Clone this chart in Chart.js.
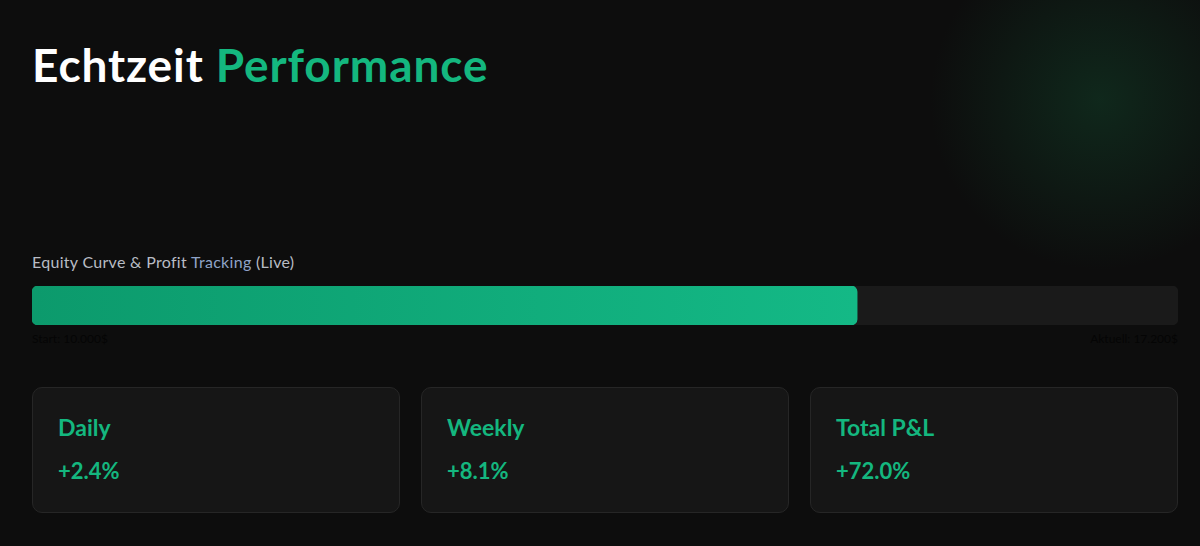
<!DOCTYPE html>
<html><head><meta charset="utf-8">
<script src="https://cdn.jsdelivr.net/npm/chart.js@4"></script>
<style>
html,body{margin:0;padding:0;background:#0d0d0d;width:1200px;height:546px;overflow:hidden;font-family:Lato,"Noto Sans",sans-serif;color:#fff}
body{background:radial-gradient(circle at 1100px 100px, rgba(20,90,55,0.35) 0, rgba(13,13,13,0) 170px),#0d0d0d}
h1{position:absolute;left:32px;top:37px;margin:0;font-size:46px;font-weight:700;letter-spacing:0.9px}
h1 span{color:#14b77f}
.sub{position:absolute;left:32px;top:252px;font-size:16px;color:#b8bcc4;letter-spacing:0.3px}
.sub span{color:#8fa3c8}
#wrap{position:absolute;left:32px;top:286px;width:1146px;height:39px}
.lab{position:absolute;top:331px;font-size:12px;color:#050505}
.card{position:absolute;top:387px;width:368px;height:126px;background:#161616;border:1px solid #262626;border-radius:10px;box-sizing:border-box}
.card .t{position:absolute;left:25px;top:25px;font-size:23px;font-weight:700;color:#14b77f}
.card .v{position:absolute;left:25px;top:69px;font-size:22px;font-weight:700;color:#14b77f}
</style></head><body>
<h1>Echtzeit <span>Performance</span></h1>
<div class="sub">Equity Curve &amp; Profit <span>Tracking</span> (Live)</div>
<div id="wrap"><canvas id="c"></canvas></div>
<div class="lab" style="left:32px">Start: 10.000$</div>
<div class="lab" style="right:22px">Aktuell: 17.200$</div>
<div class="card" style="left:32px"><div class="t">Daily</div><div class="v">+2.4%</div></div>
<div class="card" style="left:421px"><div class="t">Weekly</div><div class="v">+8.1%</div></div>
<div class="card" style="left:810px"><div class="t">Total P&amp;L</div><div class="v">+72.0%</div></div>
<script>
const categories=["Equity"];
const progressValues=[72];
const trackValues=[100];
const ctx=document.getElementById('c');
new Chart(ctx,{type:'bar',
data:{labels:categories,datasets:[
{data:progressValues,backgroundColor:(c)=>{const a=c.chart.chartArea;if(!a)return '#10a878';const g=c.chart.ctx.createLinearGradient(a.left,0,a.left+a.width*0.72,0);g.addColorStop(0,'#0c9a6c');g.addColorStop(1,'#14b986');return g;},borderRadius:6,borderSkipped:false,barPercentage:1,categoryPercentage:1,order:0},
{data:trackValues,backgroundColor:'#1a1a1a',borderRadius:6,borderSkipped:false,barPercentage:1,categoryPercentage:1,order:1}
]},
options:{indexAxis:'y',responsive:true,maintainAspectRatio:false,animation:false,
layout:{padding:0},
plugins:{legend:{display:false},tooltip:{enabled:false}},
scales:{x:{min:0,max:100,display:false},y:{stacked:true,display:false}}}});
</script>
</body></html>
